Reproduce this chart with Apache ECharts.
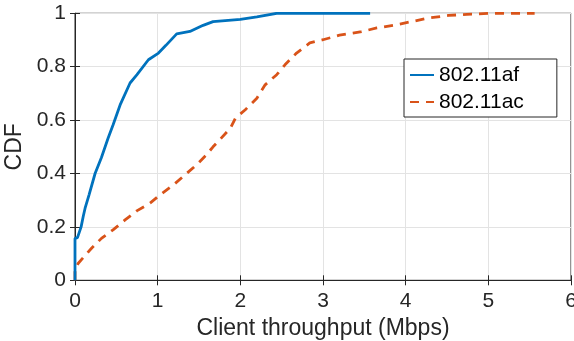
<!DOCTYPE html>
<html>
<head>
<meta charset="utf-8">
<script src="https://cdn.jsdelivr.net/npm/echarts@6/dist/echarts.min.js"></script>
<style>html,body{margin:0;padding:0;background:#fff}#c{width:574px;height:341px}</style>
</head>
<body>
<div id="c"></div>
<script>
var seriesNames = ['802.11af', '802.11ac'];
var xTicks = [0, 1, 2, 3, 4, 5, 6];
var yTicks = [0, 0.2, 0.4, 0.6, 0.8, 1];

var afX = [0, 0, 0.03, 0.074, 0.10, 0.122, 0.17, 0.243, 0.32, 0.40, 0.46, 0.55, 0.666, 0.75, 0.888, 1.01, 1.10, 1.23, 1.39, 1.55, 1.67, 2.0, 2.2, 2.44, 3.57];
var afY = [0, 0.157, 0.16, 0.20, 0.24, 0.27, 0.32, 0.40, 0.46, 0.532, 0.582, 0.66, 0.739, 0.77, 0.826, 0.851, 0.88, 0.923, 0.932, 0.955, 0.969, 0.977, 0.987, 1.0, 1.0];

var acX = [0, 0, 0.04, 0.20, 0.32, 0.46, 0.606, 0.747, 0.908, 1.03, 1.19, 1.35, 1.47, 1.59, 1.67, 1.75, 1.88, 1.94, 2.06, 2.20, 2.30, 2.44, 2.54, 2.68, 2.84, 3.0, 3.2, 3.45, 3.65, 3.87, 4.06, 4.27, 4.52, 4.74, 5.02, 5.56];
var acY = [0, 0.041, 0.064, 0.12, 0.157, 0.189, 0.226, 0.26, 0.289, 0.32, 0.357, 0.40, 0.432, 0.47, 0.50, 0.526, 0.57, 0.607, 0.639, 0.682, 0.732, 0.77, 0.807, 0.851, 0.889, 0.901, 0.918, 0.93, 0.945, 0.956, 0.968, 0.982, 0.992, 0.996, 1.0, 1.0];

function pairs(xs, ys) { return xs.map(function (x, i) { return [x, ys[i]]; }); }

var axisColor = '#262626';
var font = 'Liberation Sans, Arial, Helvetica, sans-serif';
var chart = echarts.init(document.getElementById('c'), null, {renderer: 'canvas'});
var xMin = xTicks[0], xMax = xTicks[xTicks.length - 1];
var yMin = yTicks[0], yMax = yTicks[yTicks.length - 1];

chart.setOption({
  animation: false,
  backgroundColor: '#fff',
  grid: {left: 75, right: 3, top: 13.3, bottom: 60.7, show: true, borderColor: axisColor, borderWidth: 1, containLabel: false, outerBoundsMode: 'none'},
  legend: {
    orient: 'vertical', left: 404, top: 59,
    padding: [4, 33, 3, 5], itemGap: 3, itemWidth: 24, itemHeight: 14, itemTextGap: 3,
    backgroundColor: '#fff', borderColor: axisColor, borderWidth: 1,
    itemStyle: {opacity: 0, borderWidth: 0},
    textStyle: {fontFamily: font, fontSize: 21, color: '#000', lineHeight: 24},
    data: seriesNames
  },
  xAxis: [{
    type: 'value', min: xMin, max: xMax, interval: 1,
    name: 'Client throughput (Mbps)', nameLocation: 'middle', nameGap: 37,
    nameTextStyle: {fontFamily: font, fontSize: 23, color: axisColor},
    axisLine: {show: true, lineStyle: {color: axisColor, width: 1}},
    axisTick: {show: true, inside: true, length: 5, lineStyle: {color: axisColor}},
    axisLabel: {fontFamily: font, fontSize: 21, color: axisColor, margin: 10},
    splitLine: {show: true, lineStyle: {color: '#e3e3e3', width: 1}}
  }, {
    type: 'value', min: xMin, max: xMax, interval: 1, position: 'top',
    axisLine: {show: true, lineStyle: {color: axisColor}},
    axisTick: {show: true, inside: true, length: 5, lineStyle: {color: axisColor}},
    axisLabel: {show: false}, splitLine: {show: false}
  }],
  yAxis: [{
    type: 'value', min: yMin, max: yMax, interval: 0.2,
    name: 'CDF', nameLocation: 'middle', nameGap: 44, nameRotate: 90,
    nameTextStyle: {fontFamily: font, fontSize: 23, color: axisColor},
    axisLine: {show: true, lineStyle: {color: axisColor, width: 1}},
    axisTick: {show: true, inside: true, length: 5, lineStyle: {color: axisColor}},
    axisLabel: {fontFamily: font, fontSize: 21, color: axisColor, margin: 9},
    splitLine: {show: true, lineStyle: {color: '#e3e3e3', width: 1}}
  }, {
    type: 'value', min: yMin, max: yMax, interval: 0.2, position: 'right',
    axisLine: {show: true, lineStyle: {color: axisColor}},
    axisTick: {show: true, inside: true, length: 5, lineStyle: {color: axisColor}},
    axisLabel: {show: false}, splitLine: {show: false}
  }],
  series: [{
    name: seriesNames[0], type: 'line', data: pairs(afX, afY),
    showSymbol: false, symbol: 'none', z: 3,
    lineStyle: {color: '#0072BD', width: 2.8},
    itemStyle: {color: '#0072BD'}
  }, {
    name: seriesNames[1], type: 'line', data: pairs(acX, acY),
    showSymbol: false, symbol: 'none', z: 2,
    lineStyle: {color: '#D95319', width: 2.8, type: [9, 7]},
    itemStyle: {color: '#D95319'}
  }]
});
</script>
</body>
</html>
